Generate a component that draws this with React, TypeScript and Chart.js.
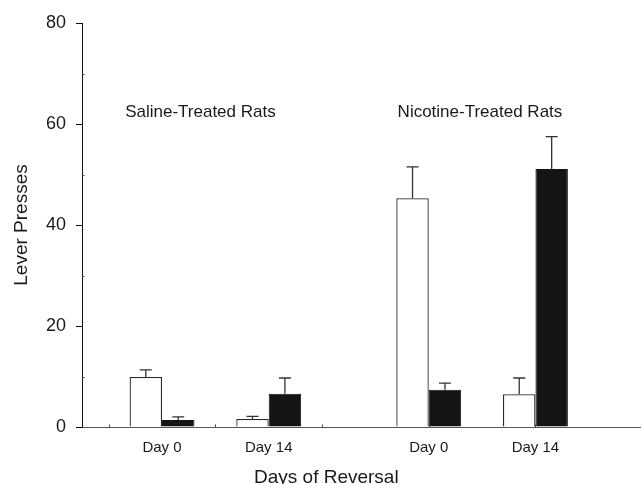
import React, { useEffect, useRef } from 'react';
import { Chart, registerables } from 'chart.js';

Chart.register(...registerables);

// ---- data ----
const groupPositions = [1, 2, 3.5, 4.5];
const dayLabels = ['Day 0', 'Day 14', 'Day 0', 'Day 14'];
const openValues = [9.9, 1.6, 45.3, 6.5];
const openErrors = [1.4, 0.5, 6.2, 3.2];
const filledValues = [1.4, 6.6, 7.4, 51.1];
const filledErrors = [0.6, 3.1, 1.3, 6.4];
const yTicks = [0, 20, 40, 60, 80];
const yMinorTicks = [10, 30, 50, 70];
const xMinorTicks = [0.5, 1.5, 2.5, 3.5, 4.5];
const treatmentLabels = ['Saline-Treated Rats', 'Nicotine-Treated Rats'];
const xAxisTitle = 'Days of Reversal';
const yAxisTitle = 'Lever Presses';

const FONT = "'Liberation Sans', Arial, Helvetica, sans-serif";
const INK = '#1a1a1a';

const errorBarsPlugin = {
  id: 'errorBars',
  afterDatasetsDraw(chart: any) {
    const ctx = chart.ctx;
    const yScale = chart.scales.y;
    chart.data.datasets.forEach((ds: any, di: number) => {
      const meta = chart.getDatasetMeta(di);
      meta.data.forEach((bar: any, i: number) => {
        const v = ds.data[i].y + ds.errors[i];
        const yEnd = yScale.getPixelForValue(v);
        ctx.save();
        ctx.strokeStyle = '#333333';
        ctx.lineWidth = 1.3;
        ctx.beginPath();
        ctx.moveTo(bar.x, bar.y);
        ctx.lineTo(bar.x, yEnd);
        ctx.moveTo(bar.x - 6, yEnd);
        ctx.lineTo(bar.x + 6, yEnd);
        ctx.stroke();
        ctx.restore();
      });
    });
  },
};

const extrasPlugin = {
  id: 'extras',
  afterDraw(chart: any, _args: any, opts: any) {
    const ctx = chart.ctx;
    const x = chart.scales.x;
    const y = chart.scales.y;
    const area = chart.chartArea;
    ctx.save();
    // minor ticks
    ctx.strokeStyle = '#444444';
    ctx.lineWidth = 1;
    ctx.beginPath();
    yMinorTicks.forEach((v) => {
      const py = Math.round(y.getPixelForValue(v)) + 0.5;
      ctx.moveTo(area.left, py);
      ctx.lineTo(area.left + 2.5, py);
    });
    xMinorTicks.forEach((v) => {
      if (v < x.min || v > x.max) return;
      const px = Math.round(x.getPixelForValue(v)) + 0.5;
      ctx.moveTo(px, area.bottom);
      ctx.lineTo(px, area.bottom - 2.5);
    });
    ctx.stroke();
    // treatment annotations
    ctx.fillStyle = INK;
    ctx.font = `17px ${FONT}`;
    ctx.textAlign = 'center';
    ctx.textBaseline = 'alphabetic';
    treatmentLabels.forEach((t, i) => {
      ctx.fillText(t, x.getPixelForValue(opts.labelX[i]), y.getPixelForValue(opts.labelY));
    });
    // x axis title
    ctx.font = `19px ${FONT}`;
    ctx.fillText(xAxisTitle, x.getPixelForValue(opts.titleX), chart.height - 1);
    ctx.restore();
  },
};

export default function App() {
  const canvasRef = useRef<HTMLCanvasElement | null>(null);

  useEffect(() => {
    const canvas = canvasRef.current;
    if (!canvas) return;
    const chart = new Chart(canvas, {
      type: 'bar',
      data: {
        datasets: [
          {
            label: 'Open bars',
            data: groupPositions.map((p, i) => ({ x: p, y: openValues[i] })),
            errors: openErrors,
            backgroundColor: '#ffffff',
            borderColor: '#2a2a2a',
            borderWidth: 1.3,
          } as any,
          {
            label: 'Filled bars',
            data: groupPositions.map((p, i) => ({ x: p, y: filledValues[i] })),
            errors: filledErrors,
            backgroundColor: '#141414',
            borderColor: '#141414',
            borderWidth: 1,
          } as any,
        ],
      },
      options: {
        animation: false,
        responsive: false,
        maintainAspectRatio: false,
        categoryPercentage: 0.608,
        barPercentage: 1.0,
        layout: { padding: { top: 23, right: 1, left: 0, bottom: 0 } },
        plugins: {
          legend: { display: false },
          tooltip: { enabled: false },
          title: { display: false },
          extras: { labelX: [1.36, 3.98], labelY: 61.4, titleX: 2.54 },
        } as any,
        scales: {
          x: {
            type: 'linear',
            min: 0.25,
            max: 5.48,
            offset: false,
            grid: { display: true, drawOnChartArea: false, drawTicks: false, offset: false },
            border: { display: true, color: '#555555', width: 1 },
            afterBuildTicks: (scale: any) => {
              scale.ticks = groupPositions.map((v) => ({ value: v }));
            },
            afterFit: (scale: any) => {
              scale.height = 57;
            },
            ticks: {
              autoSkip: false,
              maxRotation: 0,
              padding: 11.5,
              color: INK,
              font: { family: FONT, size: 15 },
              callback: (_v: any, i: number) => dayLabels[i],
            },
            title: { display: false },
          },
          y: {
            type: 'linear',
            min: 0,
            max: 80,
            grid: {
              display: true,
              drawOnChartArea: false,
              drawTicks: true,
              tickLength: 6,
              color: '#111111',
              lineWidth: 1,
            },
            border: { display: true, color: '#111111', width: 1 },
            afterBuildTicks: (scale: any) => {
              scale.ticks = yTicks.map((v) => ({ value: v }));
            },
            afterFit: (scale: any) => {
              scale.width = 82;
            },
            ticks: {
              padding: 10,
              color: INK,
              font: { family: FONT, size: 18 },
            },
            title: {
              display: true,
              text: yAxisTitle,
              color: INK,
              font: { family: FONT, size: 19 },
              padding: { top: 10.6, bottom: 0 },
            },
          },
        },
      } as any,
      plugins: [errorBarsPlugin, extrasPlugin],
    });
    return () => chart.destroy();
  }, []);

  return (
    <div style={{ position: 'fixed', left: 0, top: 0, width: 641, height: 484, background: '#ffffff' }}>
      <canvas ref={canvasRef} width={641} height={484} style={{ display: 'block' }} />
    </div>
  );
}
